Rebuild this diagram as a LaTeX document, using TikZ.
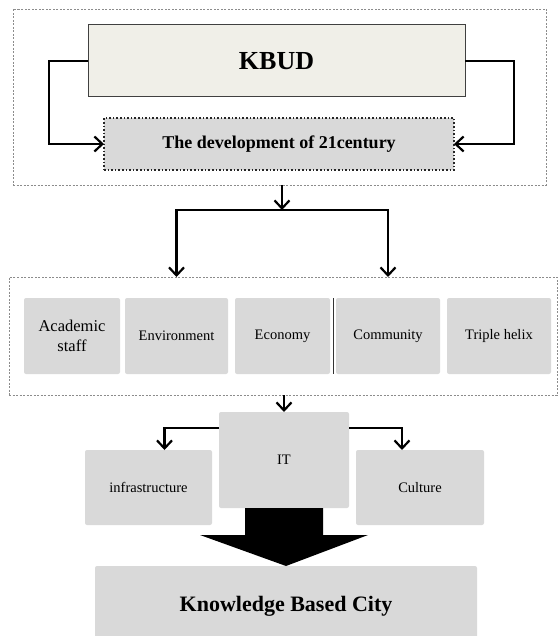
\documentclass[tikz,border=0pt]{standalone}
\usepackage{fontspec}
\setmainfont{Liberation Serif}
\usetikzlibrary{arrows.meta,calc}
\definecolor{beige}{HTML}{F0EFE8}
\definecolor{boxgray}{HTML}{D9D9D9}
\begin{document}
\begin{tikzpicture}[x=1pt,y=-1pt,
  box/.style={anchor=north west, inner sep=0pt, outer sep=0pt},
  outerbox/.style={box, draw=black!45, dash pattern=on 2pt off 1.5pt, line width=0.7pt},
  kbudbox/.style={box, draw=black!75, line width=1pt, fill=beige},
  devbox/.style={box, draw=black!85, dotted, line width=1.6pt, fill=boxgray},
  graybox/.style={box, fill=boxgray, rounded corners=2pt},
  arr/.style={line width=2.2pt, -{Straight Barb[length=8pt,width=15pt]}},
  small/.style={font=\fontsize{14.5}{18}\selectfont, align=center}
]
\useasboundingbox (0,0) rectangle (558,636);
% outer dashed groups
\node[outerbox, minimum width=533, minimum height=176] (top) at (13,9) {};
\node[outerbox, minimum width=548, minimum height=118] (mid) at (9,277) {};
% top part
\node[kbudbox, minimum width=377, minimum height=72, font=\fontsize{26}{30}\selectfont\bfseries] (kbud) at (88,25) {KBUD};
\node[devbox, minimum width=350, minimum height=52, font=\fontsize{18}{22}\selectfont\bfseries] (dev) at (104,118) {The development of 21century};
% five factors
\node[graybox, small, minimum width=96, minimum height=76, font=\fontsize{16.5}{20}\selectfont] (acad) at (24,298) {Academic\\staff};
\node[graybox, small, minimum width=103, minimum height=76] (env) at (125,298) {Environment};
\node[graybox, small, minimum width=95, minimum height=76] (eco) at (235,298) {Economy};
\node[graybox, small, minimum width=104, minimum height=76] (com) at (336,298) {Community};
\node[graybox, small, minimum width=104, minimum height=76] (tri) at (447,298) {Triple helix};
\draw[line width=0.5pt, black!80] ($(eco.north east)!0.5!(com.north west)$) -- ($(eco.south east)!0.5!(com.south west)$);
% lower part
\node[graybox, small, minimum width=130, minimum height=96] (it) at (219,412) {IT};
\node[graybox, small, minimum width=127, minimum height=75] (infra) at (85,450) {infrastructure};
\node[graybox, small, minimum width=128, minimum height=75] (cult) at (356,450) {Culture};
\node[graybox, minimum width=382, minimum height=80, font=\fontsize{22}{26}\selectfont\bfseries] (kbc) at (95,566) {Knowledge Based City};
% connectors
\draw[arr] (kbud.west) -- ++(-39,0) |- (dev.west);
\draw[arr] (kbud.east) -- ++(49,0) |- (dev.east);
\coordinate (split) at (282,210);
\draw[arr] (top.south -| split) -- (split);
\draw[arr] (split) -| (env.north |- mid.north);
\draw[arr] (split) -| (com.north |- mid.north);
\draw[arr] (mid.south -| it.north) -- (it.north);
\draw[arr] ([yshift=32pt]it.west) -| ([xshift=16pt]infra.north);
\draw[arr] ([yshift=32pt]it.east) -| ([xshift=-18pt]cult.north);
% block arrow
\fill[black] (it.south) ++(-39,0) -- ++(0,27) -- ++(-45,0) -- (kbc.north)
  -- ($(it.south)+(84,27)$) -- ++(-45,0) -- ++(0,-27) -- cycle;
\end{tikzpicture}
\end{document}
